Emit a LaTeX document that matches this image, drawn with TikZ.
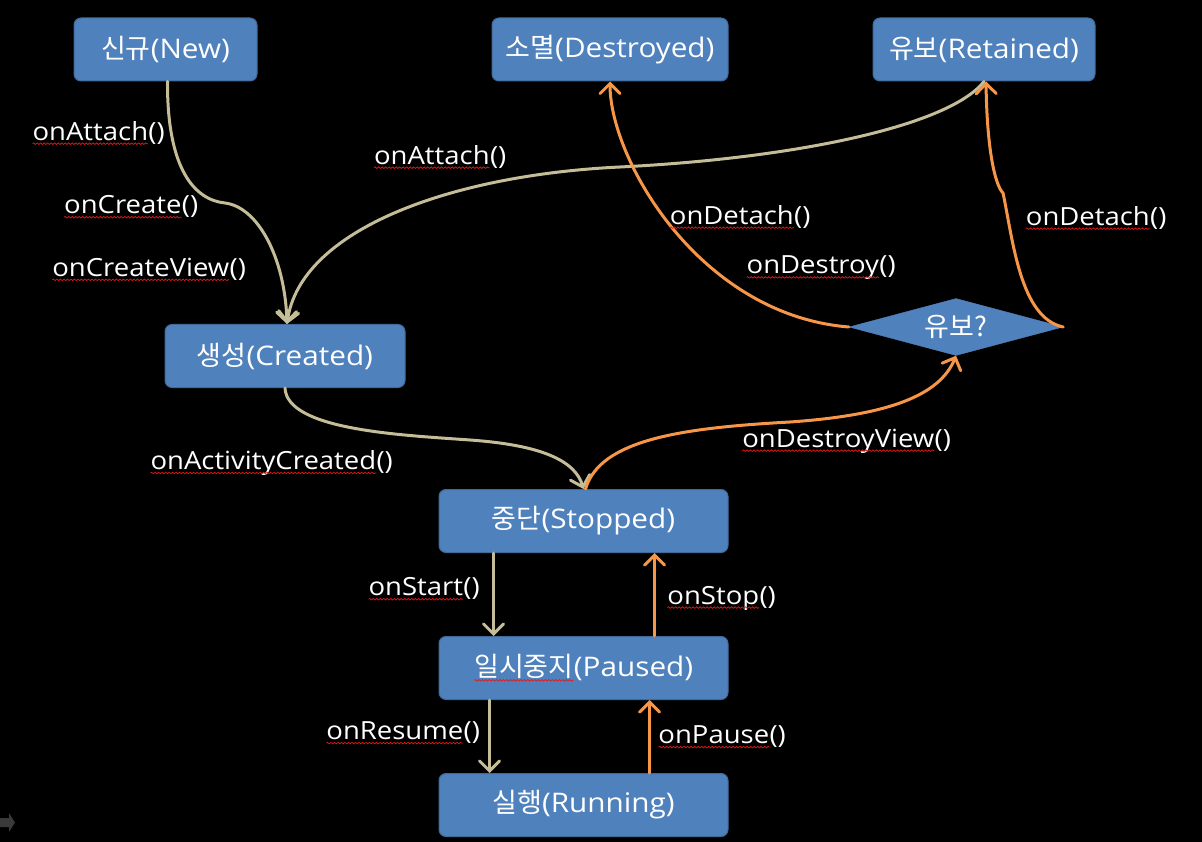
\documentclass[tikz,border=0pt]{standalone}
\usepackage{fontspec}
\setmainfont{Open Sans}[FakeStretch=1.1]
\newfontfamily\kr{Noto Sans CJK KR}
\usetikzlibrary{arrows.meta,positioning,shapes.geometric,decorations.pathmorphing}
\definecolor{boxblue}{HTML}{4F81BD}
\definecolor{boxline}{HTML}{41699A}
\definecolor{tanline}{HTML}{C4BD97}
\definecolor{orangeline}{HTML}{F79646}
\definecolor{spellred}{HTML}{E81818}
\definecolor{slidegray}{HTML}{3A3A3A}
% red wavy underline, as the slide's spell checker drew it
\newcommand\spell[1]{\tikz[baseline=(sp.base), sharp corners]{%
  \node[draw=none, fill=none, inner sep=0pt, outer sep=0pt,
        minimum width=0pt, minimum height=0pt] (sp) {#1};
  \draw[spellred, line width=0.7pt, decorate,
        decoration={snake, amplitude=0.8pt, segment length=3.5pt}]
    ([yshift=-3.5pt]sp.base west) -- ([yshift=-3.5pt]sp.base east);}}

\begin{document}
\begin{tikzpicture}[
  x=1pt, y=-1pt,
  font=\fontsize{25}{30}\selectfont,
  state/.style  = {draw=boxline, line width=1pt, fill=boxblue, rounded corners=7pt,
                   minimum height=63pt, inner sep=0pt, text=white,
                   font=\fontsize{27}{32}\selectfont},
  choice/.style = {diamond, aspect=3.75, draw=boxblue, fill=boxblue, inner sep=0pt,
                   minimum width=214pt, minimum height=57pt, text=white,
                   font=\fontsize{27}{32}\selectfont},
  fwd/.style    = {draw=tanline, line width=3pt, line cap=round,
                   -{Straight Barb[length=10pt,width=20pt,line cap=round]}},
  back/.style   = {fwd, draw=orangeline},
  lbl/.style    = {text=white, inner sep=0pt},
]

% --- slide background ------------------------------------------------------------------------------
\fill[black] (0,0) rectangle (1202,842);
\useasboundingbox (0,0) rectangle (1202,842);
\fill[slidegray] (0,818) -- (9,818) -- (9,813) -- (15,822.5) -- (9,832) -- (9,827) -- (0,827) -- cycle;

% --- the states ------------------------------------------------------------------------------------
\node[state, minimum width=183pt] (new)       at (165.5,49.5) {{\kr 신규}(New)};
\node[state, minimum width=236pt] (destroyed) at (610,49.5)   {{\kr 소멸}(Destroyed)};
\node[state, minimum width=222pt] (retained)  at (984,49.5)   {{\kr 유보}(Retained)};
\node[state, minimum width=240pt] (created)   at (285,356)    {{\kr 생성}(Created)};
\node[state, minimum width=289pt] (stopped)   at (583.5,521)  {{\kr 중단}(Stopped)};
\node[state, minimum width=289pt, below=83pt of stopped] (paused)  {\spell{\kr 일시중지}(Paused)};
\node[state, minimum width=289pt, below=73pt of paused]  (running) {{\kr 실행}(Running)};
\node[choice] (keep) at (956,327) {{\kr 유보?}};

% --- creation: new -> created -> stopped ---------------------------------------------------------------
\draw[fwd] ([xshift=2pt]new.south) .. controls (167,170) and (195,200) .. (225,203)
                                   .. controls (258,207) and (285,258) .. ([xshift=2pt]created.north);
\draw[fwd] (retained.south) .. controls (950,125) and (800,158) .. (620,167)
                            .. controls (450,175) and (300,230) .. ([xshift=2pt]created.north);
\draw[fwd] (created.south) .. controls (287,430) and (400,435) .. (470,440)
                           .. controls (540,445) and (575,460) .. (stopped.north);

% --- teardown: stopped -> retained? -> destroyed / retained ---------------------------------------------
\draw[back] ([xshift=2pt]stopped.north) .. controls (600,440) and (680,428) .. (790,422)
                                        .. controls (890,415) and (940,395) .. (keep.south);
\draw[back] (keep.west) .. controls (700,315) and (610,160) .. (destroyed.south);
\draw[back] (keep.east) .. controls (1020,318) and (1013,240) .. (1003,193)
                        .. controls (995,185) and (987,150) .. ([xshift=2pt]retained.south);

% --- the running loop ----------------------------------------------------------------------------------
\draw[fwd]  ([xshift=-90pt]stopped.south) -- ([xshift=-90pt]paused.north);
\draw[back] ([xshift=71pt]paused.north)   -- ([xshift=71pt]stopped.south);
\draw[fwd]  ([xshift=-94pt]paused.south)  -- ([xshift=-94pt]running.north);
\draw[back] ([xshift=66pt]running.north)  -- ([xshift=66pt]paused.south);

% --- callback labels -----------------------------------------------------------------------------------
\node[lbl] (attachA)     at (98.5,133)  {\spell{onAttach}()};
\node[lbl] (createL)     at (131,207)   {\spell{onCreate}()};
\node[lbl] (createView)  at (149,269.5) {\spell{onCreateView}()};
\node[lbl] (attachB)     at (440,157)   {\spell{onAttach}()};
\node[lbl] (activity)    at (271.5,463) {\spell{onActivityCreated}()};
\node[lbl] (detachA)     at (740,217)   {\spell{onDetach}()};
\node[lbl] (destroyL)    at (821,268)   {\spell{onDestroy}()};
\node[lbl] (detachB)     at (1096,218)  {\spell{onDetach}()};
\node[lbl] (destroyView) at (846.5,441) {\spell{onDestroyView}()};
\node[lbl] (startL)      at (424,589)   {\spell{onStart}()};
\node[lbl] (stopL)       at (721.5,598) {\spell{onStop}()};
\node[lbl] (resumeL)     at (403,733)   {\spell{onResume}()};
\node[lbl] (pauseL)      at (722,737)   {\spell{onPause}()};

\end{tikzpicture}
\end{document}
